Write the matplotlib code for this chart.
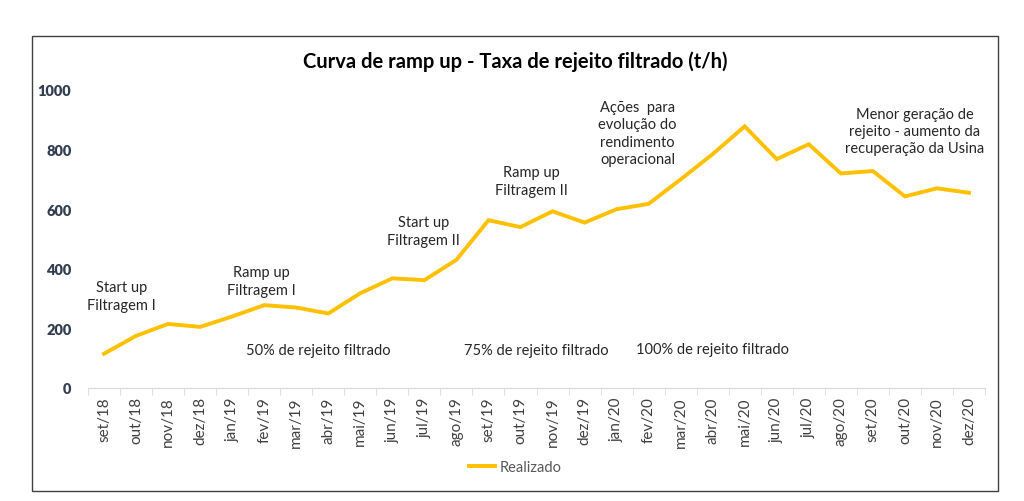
import numpy as np
import matplotlib.pyplot as plt
from matplotlib.patches import Rectangle

plt.rcParams['font.family'] = ['Lato', 'DejaVu Sans']

months = ["set/18", "out/18", "nov/18", "dez/18", "jan/19", "fev/19", "mar/19",
          "abr/19", "mai/19", "jun/19", "jul/19", "ago/19", "set/19", "out/19",
          "nov/19", "dez/19", "jan/20", "fev/20", "mar/20", "abr/20", "mai/20",
          "jun/20", "jul/20", "ago/20", "set/20", "out/20", "nov/20", "dez/20"]
realizado = [115, 175, 215, 205, 240, 278, 270, 250, 318, 368, 362, 430,
             563, 540, 593, 555, 600, 618, 700, 785, 878, 768, 818, 720,
             728, 643, 670, 655]

# annotation texts with (x index, y value) where they sit
notes = [
    ("Start up\nFiltragem I", 0.55, 309),
    ("Ramp up\nFiltragem I", 4.9, 359),
    ("50% de rejeito filtrado", 6.7, 128),
    ("Start up\nFiltragem II", 9.97, 527),
    ("75% de rejeito filtrado", 13.5, 128),
    ("Ramp up\nFiltragem II", 13.35, 695),
    ("Ações  para\nevolução do\nrendimento\noperacional", 16.65, 856),
    ("100% de rejeito filtrado", 19.0, 131),
    ("Menor geração de\nrejeito - aumento da\nrecuperação da Usina", 25.3, 862),
]

fig = plt.figure(figsize=(10.24, 5.02), dpi=100)
ax = fig.add_axes([88/1024, 1-389/502, (985-88)/1024, (389-91)/502])

x = np.arange(len(months))
ax.plot(x, realizado, color='#FFC000', lw=2.8, solid_joinstyle='miter', label='Realizado')

for txt, tx, ty in notes:
    ax.text(tx, ty, txt, ha='center', va='center', fontsize=10.5, color='#262626',
            linespacing=1.3)

ax.set_xlim(-0.5, len(months)-0.5)
ax.set_ylim(0, 1000)
ax.set_yticks([0, 200, 400, 600, 800, 1000])
ax.tick_params(axis='y', length=0, pad=12, labelsize=10.5, labelcolor='#333F50')
for lab in ax.get_yticklabels():
    lab.set_fontweight('heavy')

ax.set_xticks(x)
ax.set_xticklabels(months, rotation=90, fontsize=11, color='#404040')
ax.tick_params(axis='x', which='major', length=0, pad=6)
ax.set_xticks(np.arange(-0.5, len(months)), minor=True)
ax.tick_params(axis='x', which='minor', length=5, color='#D9D9D9')

for s in ['left', 'top', 'right']:
    ax.spines[s].set_visible(False)
ax.spines['bottom'].set_color('#D9D9D9')

fig.text(515/1024, 1-62/502, "Curva de ramp up - Taxa de rejeito filtrado (t/h)",
         ha='center', va='center', fontsize=14.5, fontweight='bold', color='#000000')

ax.legend(loc='center', bbox_to_anchor=(515/1024, 1-468/502), bbox_transform=fig.transFigure,
          frameon=False, handlelength=1.8, handletextpad=0.3, fontsize=10.5, labelcolor='#595959')

fig.patches.append(Rectangle((32/1024, 1-492/502), (998-32)/1024, (492-37)/502,
                             transform=fig.transFigure, fill=False, edgecolor='#404040', lw=1))

fig.savefig('out.png', dpi=100)
